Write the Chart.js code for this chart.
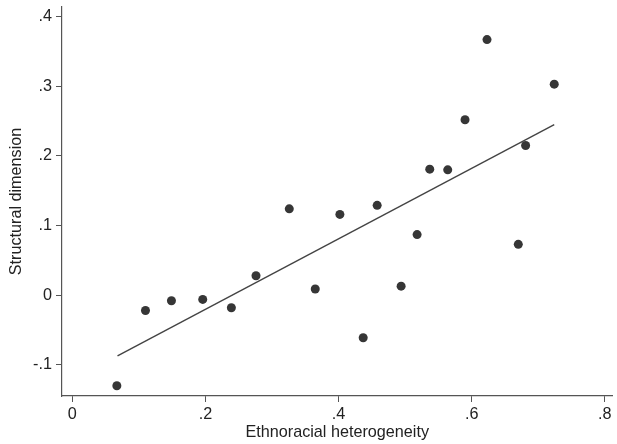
<!DOCTYPE html>
<html>
<head>
<meta charset="utf-8">
<script src="https://cdn.jsdelivr.net/npm/chart.js@4/dist/chart.umd.min.js"></script>
<style>
html,body{margin:0;padding:0;background:#fff;}
#wrap{width:617px;height:444px;}
</style>
</head>
<body>
<div id="wrap"><canvas id="c" width="617" height="444"></canvas></div>
<script>
// Data
const heterogeneity = [0.067, 0.110, 0.149, 0.196, 0.239, 0.276, 0.326, 0.365, 0.402, 0.437,
                       0.458, 0.494, 0.518, 0.537, 0.564, 0.590, 0.623, 0.670, 0.681, 0.724];
const structural   = [-0.130, -0.022, -0.008, -0.006, -0.018, 0.028, 0.124, 0.009, 0.116, -0.061,
                       0.129, 0.013, 0.087, 0.181, 0.180, 0.252, 0.367, 0.073, 0.215, 0.303];
const fitX = [0.068, 0.724];
const fitY = [-0.087, 0.245];
const xTicks = [0, 0.2, 0.4, 0.6, 0.8];
const yTicks = [-0.1, 0, 0.1, 0.2, 0.3, 0.4];

const fmt = v => {
  if (Math.abs(v) < 1e-9) return '0';
  let s = (Math.round(v * 10) / 10).toString();
  return s.replace(/^(-?)0\./, '$1.');
};

const pts = heterogeneity.map((x, i) => ({x: x, y: structural[i]}));
const fit = fitX.map((x, i) => ({x: x, y: fitY[i]}));

const axisColor = '#555';
const font = {family: '"Liberation Sans", Arial, sans-serif', size: 16.2};

new Chart(document.getElementById('c'), {
  type: 'scatter',
  data: {
    datasets: [
      {data: pts, backgroundColor: '#363636', borderColor: '#363636', pointRadius: 4.5, pointBorderWidth: 0, order: 1},
      {type: 'line', data: fit, showLine: true, borderColor: '#444', borderWidth: 1.4, pointRadius: 0, fill: false, order: 2}
    ]
  },
  options: {
    responsive: false,
    animation: false,
    events: [],
    layout: {padding: {top: 7, right: 2, left: 0, bottom: 0}},
    plugins: {legend: {display: false}, tooltip: {enabled: false}},
    scales: {
      x: {
        type: 'linear',
        min: -0.0154, max: 0.8115,
        afterBuildTicks: s => { s.ticks = xTicks.map(v => ({value: v})); },
        afterFit: s => { s.height = 48; s.paddingLeft = 0; s.paddingRight = 0; },
        border: {display: true, color: axisColor, width: 1.2},
        grid: {drawOnChartArea: false, drawTicks: true, tickLength: 6, color: axisColor, lineWidth: 1},
        ticks: {callback: v => fmt(v), color: '#222', font: font, padding: 3, maxRotation: 0, autoSkip: false},
        title: {display: true, text: 'Ethnoracial heterogeneity', color: '#222', font: font, padding: {top: 0, bottom: 2}}
      },
      y: {
        type: 'linear',
        min: -0.1447, max: 0.4138,
        afterBuildTicks: s => { s.ticks = yTicks.map(v => ({value: v})); },
        afterFit: s => { s.width = 62; s.paddingTop = 0; s.paddingBottom = 0; },
        border: {display: true, color: axisColor, width: 1.2},
        grid: {drawOnChartArea: false, drawTicks: true, tickLength: 6, color: axisColor, lineWidth: 1},
        ticks: {callback: v => fmt(v), color: '#222', font: font, padding: 4, autoSkip: false},
        title: {display: true, text: 'Structural dimension', color: '#222', font: font, padding: {top: 7, bottom: 0}}
      }
    }
  }
});
</script>
</body>
</html>
